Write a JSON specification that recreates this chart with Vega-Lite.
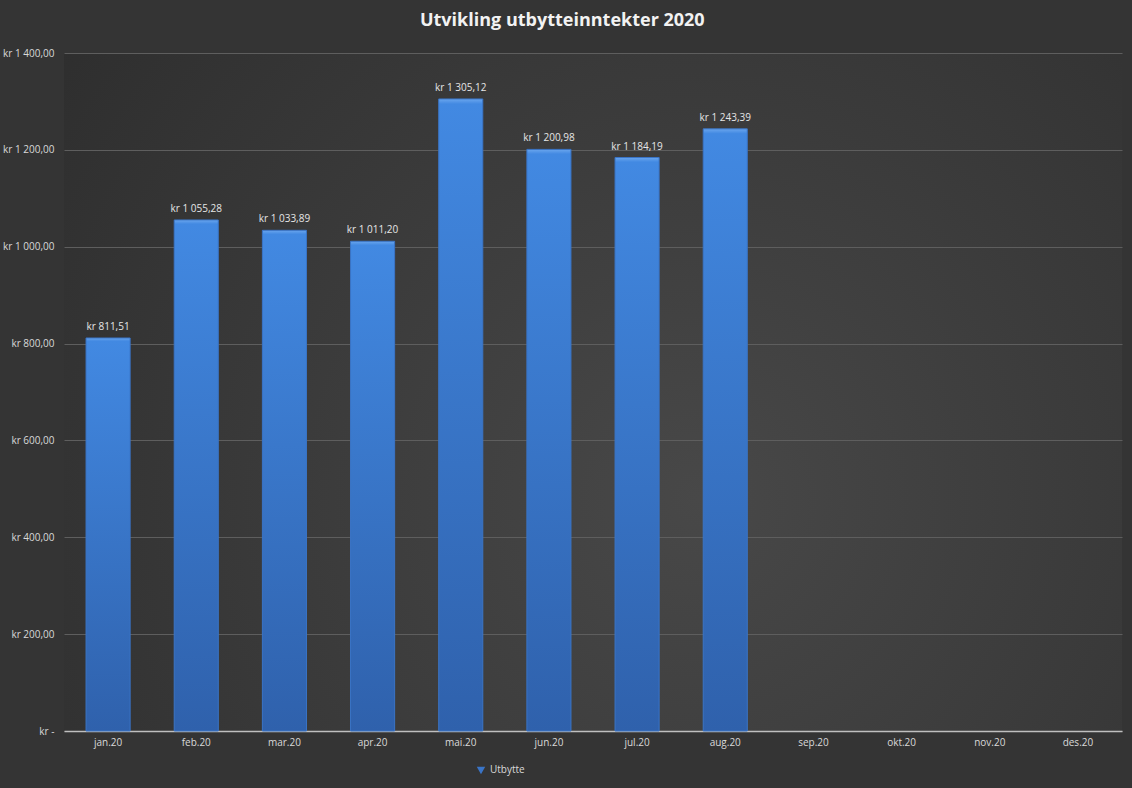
{
  "$schema": "https://vega.github.io/schema/vega-lite/v6.json",
  "width": 1132,
  "height": 788,
  "autosize": {"type": "fit", "contains": "padding"},
  "padding": {"left": 2, "top": 12, "right": 10, "bottom": 41},
  "background": "#343434",
  "title": {
    "text": "Utvikling utbytteinntekter 2020",
    "color": "#f2f2f2",
    "font": "Open Sans",
    "fontSize": 18,
    "fontWeight": "bold",
    "anchor": "middle",
    "frame": "bounds",
    "offset": 18
  },
  "config": {
    "locale": {
      "number": {"decimal": ",", "thousands": " ", "grouping": [3], "currency": ["kr ", ""]}
    },
    "view": {
      "stroke": null,
      "fill": {
        "gradient": "radial",
        "x1": 0.6, "y1": 0.6, "r1": 0,
        "x2": 0.6, "y2": 0.6, "r2": 0.75,
        "stops": [
          {"offset": 0, "color": "#484848"},
          {"offset": 1, "color": "#2e2e2e"}
        ]
      }
    },
    "font": "Open Sans"
  },
  "data": {
    "values": [
      {"month": "jan.20", "value": 811.51},
      {"month": "feb.20", "value": 1055.28},
      {"month": "mar.20", "value": 1033.89},
      {"month": "apr.20", "value": 1011.20},
      {"month": "mai.20", "value": 1305.12},
      {"month": "jun.20", "value": 1200.98},
      {"month": "jul.20", "value": 1184.19},
      {"month": "aug.20", "value": 1243.39}
    ]
  },
  "encoding": {
    "x": {
      "field": "month",
      "type": "nominal",
      "sort": null,
      "scale": {
        "domain": ["jan.20", "feb.20", "mar.20", "apr.20", "mai.20", "jun.20", "jul.20", "aug.20", "sep.20", "okt.20", "nov.20", "des.20"],
        "paddingInner": 0.5,
        "paddingOuter": 0.25
      },
      "axis": {
        "title": null,
        "labelAngle": 0,
        "labelColor": "#d9d9d9",
        "labelFontSize": 10,
        "labelPadding": 6,
        "ticks": false,
        "domainColor": "#bfbfbf",
        "domainWidth": 1.5
      }
    },
    "y": {
      "field": "value",
      "type": "quantitative",
      "scale": {"domain": [0, 1400], "nice": false},
      "axis": {
        "title": null,
        "values": [0, 200, 400, 600, 800, 1000, 1200, 1400],
        "format": "$,.2f",
        "labelExpr": "datum.value === 0 ? 'kr -' : datum.label",
        "labelColor": "#d9d9d9",
        "labelFontSize": 10,
        "labelPadding": 10,
        "ticks": false,
        "domain": false,
        "gridColor": "#5e5e5e",
        "gridWidth": 1
      }
    }
  },
  "layer": [
    {
      "mark": {
        "type": "bar",
        "fill": {
          "gradient": "linear",
          "x1": 0, "y1": 0, "x2": 0, "y2": 1,
          "stops": [
            {"offset": 0, "color": "#6aa6ee"},
            {"offset": 0.008, "color": "#4289e2"},
            {"offset": 1, "color": "#2f61ac"}
          ]
        },
        "strokeWidth": 1
      },
      "encoding": {
        "stroke": {
          "datum": "Utbytte",
          "type": "nominal",
          "scale": {"range": ["#3a74c6"]},
          "legend": {
            "title": null,
            "orient": "none",
            "legendX": 412,
            "legendY": 712,
            "symbolType": "triangle-down",
            "symbolSize": 25,
            "symbolStrokeWidth": 2,
            "symbolFillColor": "#3b7bd4",
            "labelColor": "#d9d9d9",
            "labelFontSize": 10
          }
        }
      }
    },
    {
      "mark": {"type": "text", "dy": -11, "color": "#e6e6e6", "fontSize": 10},
      "encoding": {
        "text": {"field": "value", "type": "quantitative", "format": "$,.2f"}
      }
    }
  ]
}
